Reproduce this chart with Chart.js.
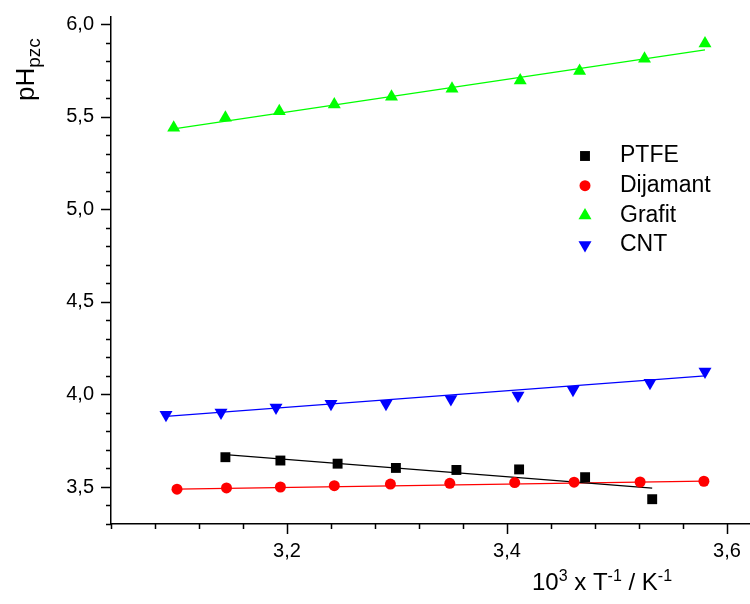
<!DOCTYPE html>
<html>
<head>
<meta charset="utf-8">
<title>pHpzc vs 1/T</title>
<script src="https://cdn.jsdelivr.net/npm/chart.js@4.4.1/dist/chart.umd.min.js"></script>
<style>
  html, body { margin: 0; padding: 0; background: #fff; }
  #wrap { width: 750px; height: 604px; }
</style>
</head>
<body>
<div id="wrap"><canvas id="phChart" width="750" height="604"></canvas></div>
<script>
// measured points (10^3/T in K^-1, pHpzc)
const ptfeX = [3.144, 3.194, 3.246, 3.299, 3.354, 3.411, 3.471, 3.532];
const ptfeY = [3.661, 3.643, 3.626, 3.603, 3.592, 3.595, 3.553, 3.434];

const dijamantX = [3.100, 3.145, 3.194, 3.243, 3.294, 3.348, 3.407, 3.461, 3.521, 3.579];
const dijamantY = [3.488, 3.495, 3.500, 3.507, 3.516, 3.520, 3.524, 3.526, 3.527, 3.531];

const grafitX = [3.097, 3.144, 3.193, 3.243, 3.295, 3.350, 3.412, 3.466, 3.525, 3.580];
const grafitY = [5.441, 5.496, 5.531, 5.567, 5.609, 5.652, 5.697, 5.748, 5.815, 5.897];

const cntX = [3.090, 3.140, 3.190, 3.240, 3.290, 3.349, 3.410, 3.460, 3.530, 3.580];
const cntY = [3.890, 3.902, 3.930, 3.950, 3.950, 3.975, 3.994, 4.025, 4.064, 4.124];

// linear fit lines, end points
const fitPtfeX = [3.144, 3.532];
const fitPtfeY = [3.675, 3.494];
const fitDijamantX = [3.100, 3.579];
const fitDijamantY = [3.489, 3.532];
const fitGrafitX = [3.097, 3.580];
const fitGrafitY = [5.435, 5.862];
const fitCntX = [3.090, 3.580];
const fitCntY = [3.882, 4.100];

// axis setup
const xMin = 3.04, xMax = 3.62, xMinor = 0.04, xMajor = 0.2;
const yMin = 3.3, yMax = 6.04, yMinor = 0.1, yMajor = 0.5;

const FONT = '"Liberation Sans", Arial, sans-serif';

function toPoints(xs, ys) {
    return xs.map((x, i) => ({ x: x, y: ys[i] }));
}

function isMultiple(v, step) {
    const q = v / step;
    return Math.abs(q - Math.round(q)) < 1e-6;
}

function commaLabel(v) {
    return v.toFixed(1).replace('.', ',');
}

const series = [
    { label: 'PTFE', xs: ptfeX, ys: ptfeY, fx: fitPtfeX, fy: fitPtfeY, color: '#000000', style: 'rect', radius: 7, rotation: 0 },
    { label: 'Dijamant', xs: dijamantX, ys: dijamantY, fx: fitDijamantX, fy: fitDijamantY, color: '#ff0000', style: 'circle', radius: 5.5, rotation: 0 },
    { label: 'Grafit', xs: grafitX, ys: grafitY, fx: fitGrafitX, fy: fitGrafitY, color: '#00ff00', style: 'triangle', radius: 7.5, rotation: 0 },
    { label: 'CNT', xs: cntX, ys: cntY, fx: fitCntX, fy: fitCntY, color: '#0000ff', style: 'triangle', radius: 7.5, rotation: 180 }
];

const datasets = [];
series.forEach(s => {
    datasets.push({
        label: s.label,
        data: toPoints(s.xs, s.ys),
        showLine: false,
        pointStyle: s.style,
        pointRotation: s.rotation,
        pointRadius: s.radius,
        pointBackgroundColor: s.color,
        pointBorderWidth: 0,
        borderColor: s.color,
        order: 1
    });
});
series.forEach(s => {
    datasets.push({
        label: s.label + ' fit',
        data: toPoints(s.fx, s.fy),
        showLine: true,
        pointRadius: 0,
        borderColor: s.color,
        borderWidth: 1.2,
        fill: false,
        order: 2
    });
});

// minor/major tick marks drawn outside the plot frame
const tickMarks = {
    id: 'tickMarks',
    afterDraw(chart) {
        const ctx = chart.ctx;
        const xs = chart.scales.x;
        const ys = chart.scales.y;
        const area = chart.chartArea;
        ctx.save();
        ctx.strokeStyle = '#000';
        ctx.lineWidth = 1.5;
        ctx.beginPath();
        xs.ticks.forEach(t => {
            if (!isMultiple(t.value, xMinor)) return;
            const px = Math.round(xs.getPixelForValue(t.value)) + 0.5;
            const len = isMultiple(t.value, xMajor) ? 10 : 5;
            ctx.moveTo(px, area.bottom);
            ctx.lineTo(px, area.bottom + len);
        });
        ys.ticks.forEach(t => {
            if (!isMultiple(t.value, yMinor)) return;
            const py = Math.round(ys.getPixelForValue(t.value)) + 0.5;
            const len = isMultiple(t.value, yMajor) ? 10 : 5;
            ctx.moveTo(area.left, py);
            ctx.lineTo(area.left - len, py);
        });
        ctx.stroke();
        ctx.restore();
    }
};

// draws text made of runs with their own size and vertical shift
function drawRuns(ctx, runs, x, y) {
    let cx = x;
    runs.forEach(r => {
        ctx.font = r.size + 'px ' + FONT;
        ctx.fillText(r.text, cx, y + r.dy);
        cx += ctx.measureText(r.text).width;
    });
}

const axisTitles = {
    id: 'axisTitles',
    afterDraw(chart) {
        const ctx = chart.ctx;
        ctx.save();
        ctx.fillStyle = '#000';
        ctx.textBaseline = 'alphabetic';
        ctx.textAlign = 'left';
        drawRuns(ctx, [
            { text: '10', size: 24, dy: 0 },
            { text: '3', size: 16, dy: -9 },
            { text: ' x T', size: 24, dy: 0 },
            { text: '-1', size: 16, dy: -9 },
            { text: ' / K', size: 24, dy: 0 },
            { text: '-1', size: 16, dy: -9 }
        ], 532, 590);

        ctx.translate(34, 101);
        ctx.rotate(-Math.PI / 2);
        drawRuns(ctx, [
            { text: 'pH', size: 26, dy: 0 },
            { text: 'pzc', size: 19, dy: 6 }
        ], 0, 0);
        ctx.restore();
    }
};

const innerLegend = {
    id: 'innerLegend',
    afterDraw(chart) {
        const ctx = chart.ctx;
        const left = 585, top = 156, rowGap = 29.7;
        ctx.save();
        series.forEach((s, i) => {
            const y = top + i * rowGap;
            ctx.fillStyle = s.color;
            ctx.strokeStyle = s.color;
            Chart.helpers.drawPoint(ctx, {
                pointStyle: s.style,
                radius: s.radius,
                rotation: s.rotation,
                borderWidth: 0
            }, left, y);
            ctx.fillStyle = '#000';
            ctx.font = '23px ' + FONT;
            ctx.textBaseline = 'middle';
            ctx.textAlign = 'left';
            ctx.fillText(s.label, 620, y);
        });
        ctx.restore();
    }
};

const ctx = document.getElementById('phChart').getContext('2d');
new Chart(ctx, {
    type: 'scatter',
    data: { datasets: datasets },
    plugins: [tickMarks, axisTitles, innerLegend],
    options: {
        responsive: false,
        animation: false,
        devicePixelRatio: 1,
        layout: { autoPadding: false, padding: { top: 17, right: 1, left: 0, bottom: 0 } },
        plugins: {
            legend: { display: false },
            tooltip: { enabled: false }
        },
        scales: {
            x: {
                type: 'linear',
                min: xMin,
                max: xMax,
                afterFit: (scale) => {
                    scale.height = 80;
                    scale.paddingLeft = 0;
                    scale.paddingRight = 0;
                },
                border: { display: true, color: '#000', width: 1.5 },
                grid: { display: true, drawOnChartArea: false, drawTicks: true, tickLength: 10, tickColor: 'rgba(0,0,0,0)' },
                ticks: {
                    stepSize: xMinor,
                    includeBounds: false,
                    autoSkip: false,
                    maxRotation: 0,
                    padding: 5,
                    color: '#000',
                    font: { family: FONT, size: 20 },
                    callback: (v) => isMultiple(v, xMajor) ? commaLabel(v) : ''
                }
            },
            y: {
                type: 'linear',
                min: yMin,
                max: yMax,
                afterFit: (scale) => {
                    scale.width = 111;
                    scale.paddingTop = 0;
                    scale.paddingBottom = 0;
                },
                border: { display: true, color: '#000', width: 1.5 },
                grid: { display: true, drawOnChartArea: false, drawTicks: true, tickLength: 10, tickColor: 'rgba(0,0,0,0)' },
                ticks: {
                    stepSize: yMinor,
                    includeBounds: false,
                    autoSkip: false,
                    padding: 7,
                    color: '#000',
                    font: { family: FONT, size: 20 },
                    callback: (v) => isMultiple(v, yMajor) ? commaLabel(v) : ''
                }
            }
        }
    }
});
</script>
</body>
</html>
